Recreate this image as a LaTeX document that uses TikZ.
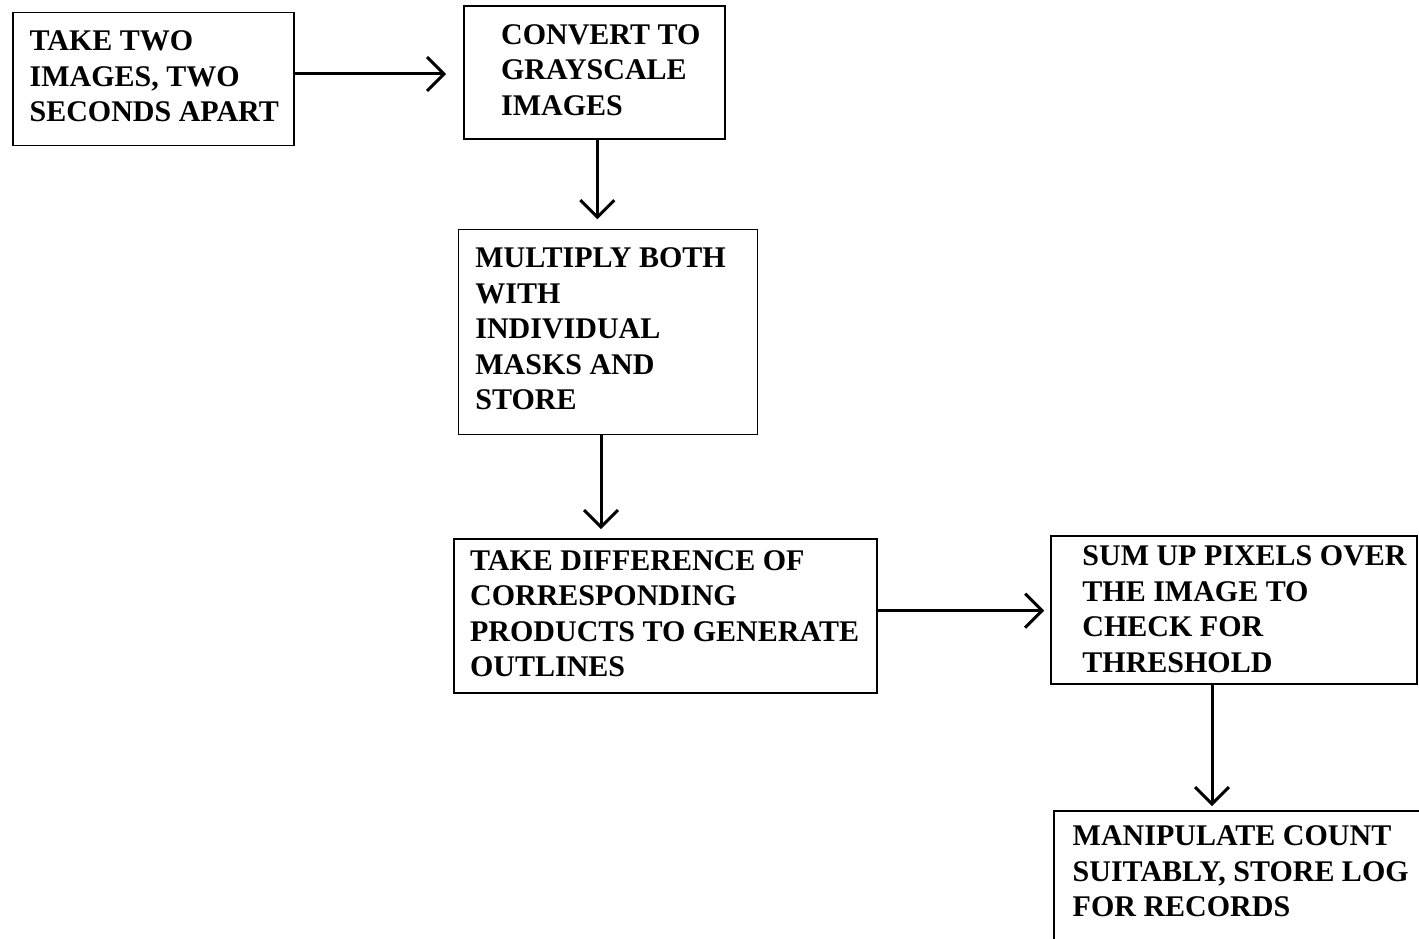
\documentclass[tikz,border=0pt]{standalone}
\usepackage{fontspec}
\setmainfont{Liberation Serif}
\usetikzlibrary{arrows.meta}
\usetikzlibrary{positioning}

\tikzset{
	box/.style={draw, line width=1.6pt, inner sep=0pt},
	txt/.style={inner sep=0pt, align=left, font=\bfseries\fontsize{30}{35.5}\selectfont},
	flow/.style={line width=3pt, -{Straight Barb[length=17pt, width=34pt]}}
}

\begin{document}
\begin{tikzpicture}[x=1pt, y=-1pt]
	% page: 1419 x 939, y runs downwards
	\useasboundingbox (0,0) rectangle (1419,939);
	\clip (0,0) rectangle (1419,939);

	% boxes
	\node[box, minimum width=281pt, minimum height=133pt] (take) at (153.7,79.2) {};
	\node[box, minimum width=261pt, minimum height=133pt] (gray) at (594.5,72.5) {};
	\node[box, minimum width=299pt, minimum height=205pt] (mult) at (607.8,331.8) {};
	\node[box, minimum width=423pt, minimum height=154pt] (diff) at (665.5,616) {};
	\node[box, minimum width=366pt, minimum height=148pt] (sum) at (1233.7,610) {};
	\node[box, minimum width=391pt, minimum height=139pt] (rec) at (1249.5,880.5) {};

	% texts
	\node[txt, below right=19pt and 17pt of take.north west] (take-t)
		{TAKE TWO\\IMAGES, TWO\\SECONDS APART};
	\node[txt, below right=19pt and 37.7pt of gray.north west] (gray-t)
		{CONVERT TO\\GRAYSCALE\\IMAGES};
	\node[txt, below right=19pt and 17.7pt of mult.north west] (mult-t)
		{MULTIPLY BOTH\\WITH\\INDIVIDUAL\\MASKS AND\\STORE};
	\node[txt, below right=12pt and 16.7pt of diff.north west] (diff-t)
		{TAKE DIFFERENCE OF\\CORRESPONDING\\PRODUCTS TO GENERATE\\OUTLINES};
	\node[txt, below right=10.7pt and 32.3pt of sum.north west] (sum-t)
		{SUM UP PIXELS OVER\\THE IMAGE TO\\CHECK FOR\\THRESHOLD};
	\node[txt, below right=15.7pt and 19.3pt of rec.north west] (rec-t)
		{MANIPULATE COUNT\\SUITABLY, STORE LOG\\FOR RECORDS};

	% arrows
	\draw[flow, shorten >=17pt] ([yshift=5.2pt]take.east) -- ([yshift=5.2pt]take.east -| gray.west);
	\draw[flow, shorten >=9.3pt] ([xshift=2.8pt]gray.south) -- ([xshift=2.8pt]gray.south |- mult.north);
	\draw[flow, shorten >=9pt] ([xshift=-6.8pt]mult.south) -- ([xshift=-6.8pt]mult.south |- diff.north);
	\draw[flow, shorten >=5.7pt] ([yshift=5.3pt]diff.east) -- ([yshift=5.3pt]diff.east -| sum.west);
	\draw[flow, shorten >=4pt] ([xshift=-21.7pt]sum.south) -- ([xshift=-21.7pt]sum.south |- rec.north);
\end{tikzpicture}
\end{document}
